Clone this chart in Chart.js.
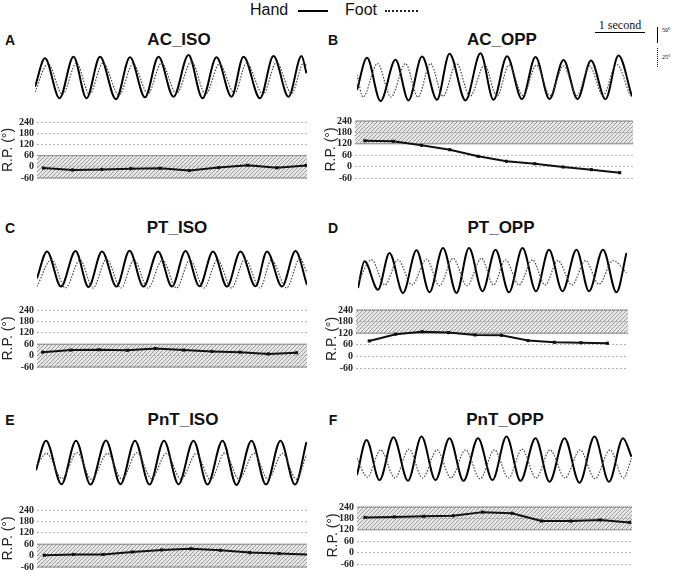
<!DOCTYPE html>
<html>
<head>
<meta charset="utf-8">
<script src="https://cdn.jsdelivr.net/npm/chart.js@4.4.1/dist/chart.umd.min.js"></script>
<style>
body { margin: 0; background: #fff; }
#fig { position: relative; width: 676px; height: 579px; overflow: hidden; font-family: 'Liberation Sans', Arial, sans-serif; }
#fig canvas { position: absolute; }
.lbl { position: absolute; transform: translate(-50%, -50%); white-space: nowrap; color: #111; }
.title { font-weight: bold; font-size: 17px; }
.letter { font-weight: bold; font-size: 14px; }
.abs { position: absolute; }
</style>
</head>
<body>
<div id="fig">
  <div class="abs" style="left:250px;top:1px;font-size:16px;color:#111;">Hand</div>
  <div class="abs" style="left:298px;top:10px;width:30px;border-top:2.5px solid #000;"></div>
  <div class="abs" style="left:345px;top:1px;font-size:16px;color:#111;">Foot</div>
  <div class="abs" style="left:385px;top:10px;width:33px;border-top:2px dotted #222;"></div>

  <div class="lbl" style="left:620px;top:25px;font-family:'Liberation Serif',serif;font-size:12px;">1 second</div>
  <div class="abs" style="left:595px;top:32px;width:50px;border-top:1.5px solid #000;"></div>
  <div class="abs" style="left:657px;top:27px;height:16px;border-left:1.5px solid #000;"></div>
  <div class="abs" style="left:662px;top:27px;font-family:'Liberation Serif',serif;font-size:6px;">50°</div>
  <div class="abs" style="left:657px;top:48px;height:19px;border-left:1.5px dotted #222;"></div>
  <div class="abs" style="left:662px;top:54px;font-family:'Liberation Serif',serif;font-size:6px;">25°</div>

  <div class="lbl letter" style="left:10px;top:40px;">A</div>
  <div class="lbl title" style="left:179px;top:40px;">AC_ISO</div>
  <div class="lbl letter" style="left:333px;top:40px;">B</div>
  <div class="lbl title" style="left:502px;top:40px;">AC_OPP</div>
  <div class="lbl letter" style="left:10px;top:228px;">C</div>
  <div class="lbl title" style="left:177px;top:228px;">PT_ISO</div>
  <div class="lbl letter" style="left:333px;top:228px;">D</div>
  <div class="lbl title" style="left:501px;top:228px;">PT_OPP</div>
  <div class="lbl letter" style="left:10px;top:420px;">E</div>
  <div class="lbl title" style="left:183px;top:420px;">PnT_ISO</div>
  <div class="lbl letter" style="left:333px;top:420px;">F</div>
  <div class="lbl title" style="left:505px;top:420px;">PnT_OPP</div>
</div>
<script>
// relative phase: one value per cycle
const cycles = [1, 2, 3, 4, 5, 6, 7, 8, 9, 10];
const rpTicks = [-60, 0, 60, 120, 180, 240];
const isoBand = [-60, 60];
const oppBand = [120, 240];

const acIsoRP = [-7, -17, -14, -10, -8, -20, -4, 8, -5, 7];
const acOppRP = [136, 133, 112, 89, 54, 28, 15, -2, -16, -32];
const ptIsoRP = [18, 29, 31, 28, 37, 29, 22, 18, 9, 15];
const ptOppRP = [80, 115, 128, 123, 111, 109, 82, 73, 71, 68];
const pntIsoRP = [2, 6, 6, 19, 30, 36, 28, 16, 11, 6];
const pntOppRP = [185, 188, 191, 194, 213, 207, 166, 166, 172, 159];

// angle traces: turning points (time in s, angle in deg)
const acIsoHandT = [0, 0.20, 0.49, 0.77, 1.03, 1.30, 1.62, 1.90, 2.20, 2.47, 2.77, 3.07, 3.35, 3.63, 3.93, 4.17, 4.50, 4.77, 5.07, 5.33, 5.43];
const acIsoHandV = [-29, 60, -65, 65, -65, 65, -68, 63, -62, 65, -60, 70, -65, 63, -60, 65, -65, 67, -60, 67, 13];
const acIsoFootT = [0, 0.26, 0.55, 0.83, 1.09, 1.36, 1.68, 1.96, 2.26, 2.53, 2.83, 3.13, 3.41, 3.69, 3.99, 4.23, 4.56, 4.83, 5.13, 5.38, 5.43];
const acIsoFootV = [-19, 18, -22, 19, -22, 19, -23, 18, -21, 19, -21, 21, -22, 18, -21, 19, -22, 20, -21, 20, 15];

const acOppHandT = [0, 0.20, 0.47, 0.77, 1.03, 1.30, 1.60, 1.85, 2.17, 2.47, 2.73, 3.00, 3.30, 3.57, 3.85, 4.13, 4.41, 4.68, 4.97, 5.23, 5.50];
const acOppHandV = [-37, 63, -72, 57, -70, 67, -68, 76, -70, 77, -68, 68, -66, 66, -66, 56, -66, 55, -66, 70, -58];
const acOppFootT = [0, 0.12, 0.41, 0.68, 0.97, 1.22, 1.47, 1.72, 1.99, 2.26, 2.55, 2.80, 3.04, 3.32, 3.59, 3.86, 4.13, 4.40, 4.65, 4.92, 5.19, 5.46];
const acOppFootV = [4, -25, 19, -25, 19, -25, 19, -24, 19, -24, 17, -24, 17, -23, 17, -23, 16, -23, 16, -23, 18, -23];

const ptIsoHandT = [0, 0.20, 0.48, 0.77, 1.03, 1.30, 1.59, 1.85, 2.13, 2.42, 2.70, 2.97, 3.25, 3.52, 3.80, 4.07, 4.37, 4.60, 4.90, 5.17, 5.40];
const ptIsoHandV = [-29, 55, -55, 56, -56, 55, -55, 57, -55, 55, -55, 56, -54, 55, -55, 55, -54, 55, -55, 56, -50];
const ptIsoFootT = [0, 0.29, 0.57, 0.86, 1.12, 1.39, 1.68, 1.94, 2.22, 2.51, 2.79, 3.06, 3.34, 3.61, 3.89, 4.16, 4.46, 4.69, 4.99, 5.26, 5.40];
const ptIsoFootV = [-23, 12, -25, 12, -25, 13, -25, 12, -25, 12, -25, 12, -25, 12, -25, 13, -25, 12, -25, 14, -5];

const ptOppHandT = [0, 0.13, 0.40, 0.63, 0.90, 1.17, 1.43, 1.70, 1.97, 2.22, 2.49, 2.75, 3.02, 3.29, 3.56, 3.82, 4.09, 4.37, 4.62, 4.90, 5.17, 5.37];
const ptOppHandV = [-55, 29, -60, 55, -70, 63, -68, 70, -70, 70, -65, 65, -68, 70, -65, 65, -65, 65, -65, 65, -68, 55];
const ptOppFootT = [0, 0.27, 0.54, 0.80, 1.08, 1.37, 1.63, 1.90, 2.18, 2.47, 2.71, 2.95, 3.22, 3.49, 3.74, 4.00, 4.28, 4.55, 4.82, 5.10, 5.37];
const ptOppFootV = [-16, 14, -19, 14, -19, 15, -20, 16, -20, 16, -19, 14, -19, 14, -19, 13, -19, 13, -18, 13, -3];

const pntIsoHandT = [0, 0.20, 0.51, 0.80, 1.09, 1.40, 1.69, 1.98, 2.27, 2.56, 2.85, 3.15, 3.43, 3.73, 4.01, 4.31, 4.60, 4.89, 5.18, 5.41];
const pntIsoHandV = [-24, 68, -68, 68, -69, 69, -68, 68, -69, 68, -68, 68, -69, 68, -70, 68, -69, 68, -69, 64];
const pntIsoFootT = [0, 0.21, 0.52, 0.82, 1.11, 1.43, 1.72, 2.02, 2.31, 2.61, 2.90, 3.21, 3.49, 3.78, 4.06, 4.36, 4.64, 4.93, 5.21, 5.41];
const pntIsoFootV = [-6, 12, -21, 13, -22, 12, -22, 13, -21, 12, -22, 12, -23, 13, -22, 12, -22, 12, -22, 10];

const pntOppHandT = [0, 0.19, 0.45, 0.73, 1.02, 1.29, 1.57, 1.85, 2.13, 2.42, 2.71, 2.99, 3.27, 3.57, 3.85, 4.15, 4.45, 4.75, 5.04, 5.32, 5.49];
const pntOppHandV = [-50, 59, -66, 68, -68, 70, -66, 65, -68, 65, -66, 70, -68, 65, -71, 65, -74, 70, -71, 65, 7];
const pntOppFootT = [0, 0.21, 0.47, 0.76, 1.04, 1.31, 1.60, 1.88, 2.17, 2.46, 2.75, 3.03, 3.30, 3.58, 3.86, 4.16, 4.46, 4.76, 5.06, 5.33, 5.49];
const pntOppFootV = [1, -24, 12, -25, 13, -25, 12, -25, 12, -26, 12, -25, 13, -25, 12, -25, 12, -26, 12, -25, 1];

// scale bars in the figure: 1 s = 50 px, 50 deg hand = 16 px, 25 deg foot = 19 px
const PX_PER_SEC = 50;
const HAND_DEG_PER_PX = 50 / 16;
const FOOT_DEG_PER_PX = 25 / 19;

const fig = document.getElementById('fig');

function addCanvas(left, top, w, h) {
    let c = document.createElement('canvas');
    c.width = w;
    c.height = h;
    c.style.left = left + 'px';
    c.style.top = top + 'px';
    c.style.width = w + 'px';
    c.style.height = h + 'px';
    fig.appendChild(c);
    return c.getContext('2d');
}

function pts(xs, ys) {
    return xs.map((x, i) => ({ x: x, y: ys[i] }));
}

function drawWave(handT, handV, footT, footV, box) {
    let ctx = addCanvas(box.left, box.top, box.w, box.h);
    let half = box.h / 2;
    new Chart(ctx, {
        type: 'line',
        data: {
            datasets: [
                {
                    data: pts(footT, footV), yAxisID: 'yF',
                    borderColor: '#444', borderWidth: 1.2, borderDash: [1.5, 1.5],
                    pointRadius: 0, cubicInterpolationMode: 'monotone', clip: false
                },
                {
                    data: pts(handT, handV), yAxisID: 'yH',
                    borderColor: '#000', borderWidth: 2,
                    pointRadius: 0, cubicInterpolationMode: 'monotone', clip: false
                }
            ]
        },
        options: {
            responsive: false, animation: false, events: [],
            plugins: { legend: { display: false }, tooltip: { enabled: false } },
            layout: { padding: 0 },
            scales: {
                x: { type: 'linear', display: false, min: 0, max: box.w / PX_PER_SEC },
                yH: { display: false, min: -half * HAND_DEG_PER_PX, max: half * HAND_DEG_PER_PX },
                yF: { display: false, min: -half * FOOT_DEG_PER_PX, max: half * FOOT_DEG_PER_PX }
            }
        }
    });
}

function hatch(ctx) {
    let c = document.createElement('canvas');
    c.width = 4;
    c.height = 4;
    let g = c.getContext('2d');
    g.fillStyle = '#e6e6e6';
    g.fillRect(0, 0, 4, 4);
    g.strokeStyle = '#8a8a8a';
    g.lineWidth = 0.8;
    g.beginPath();
    g.moveTo(0, 4); g.lineTo(4, 0);
    g.moveTo(-1, 1); g.lineTo(1, -1);
    g.moveTo(3, 5); g.lineTo(5, 3);
    g.stroke();
    return ctx.createPattern(c, 'repeat');
}

const bandPlugin = {
    id: 'band',
    beforeDraw(chart, args, opts) {
        let y = chart.scales.y, a = chart.chartArea, ctx = chart.ctx;
        let top = y.getPixelForValue(opts.range[1]);
        let bot = y.getPixelForValue(opts.range[0]);
        ctx.save();
        ctx.fillStyle = hatch(ctx);
        ctx.fillRect(a.left, top, a.right - a.left, bot - top);
        ctx.strokeStyle = '#808080';
        ctx.lineWidth = 1;
        ctx.beginPath();
        ctx.moveTo(a.left, top); ctx.lineTo(a.right, top);
        ctx.moveTo(a.left, bot); ctx.lineTo(a.right, bot);
        ctx.stroke();
        ctx.restore();
    }
};

function drawRP(values, band, box) {
    let padT = 8, padB = 4, padR = 4;
    let ctx = addCanvas(box.left - box.axisW, box.top - padT,
        box.right - box.left + box.axisW + padR, box.bottom - box.top + padT + padB);
    new Chart(ctx, {
        type: 'line',
        data: {
            datasets: [{
                data: pts(cycles, values),
                borderColor: '#111', borderWidth: 2, tension: 0,
                pointRadius: 2.2, pointStyle: 'rect',
                pointBackgroundColor: '#111', pointBorderWidth: 0
            }]
        },
        options: {
            responsive: false, animation: false, events: [],
            plugins: { legend: { display: false }, tooltip: { enabled: false }, band: { range: band } },
            layout: { padding: { top: padT, bottom: padB, right: padR, left: 0 } },
            scales: {
                x: { type: 'linear', display: false, min: box.xMin, max: box.xMax },
                y: {
                    min: -60, max: 240,
                    afterFit: s => { s.width = box.axisW; },
                    afterBuildTicks: s => { s.ticks = rpTicks.map(v => ({ value: v })); },
                    ticks: { autoSkip: false, font: { family: 'Liberation Serif', weight: 'bold', size: 10 }, color: '#222', padding: 3 },
                    grid: { color: '#a0a0a0', lineWidth: 0.8, drawTicks: false },
                    border: { display: false, dash: [2, 2] },
                    title: { display: true, text: 'R.P. (°)', font: { family: 'Liberation Sans', size: 14 }, color: '#222', padding: 0 }
                }
            }
        },
        plugins: [bandPlugin]
    });
}

drawWave(acIsoHandT, acIsoHandV, acIsoFootT, acIsoFootV, { left: 35, top: 50, w: 272, h: 55 });
drawWave(acOppHandT, acOppHandV, acOppFootT, acOppFootV, { left: 357, top: 50, w: 275, h: 56 });
drawWave(ptIsoHandT, ptIsoHandV, ptIsoFootT, ptIsoFootV, { left: 37, top: 241, w: 270, h: 56 });
drawWave(ptOppHandT, ptOppHandV, ptOppFootT, ptOppFootV, { left: 358, top: 243, w: 269, h: 55 });
drawWave(pntIsoHandT, pntIsoHandV, pntIsoFootT, pntIsoFootV, { left: 36, top: 435, w: 271, h: 55 });
drawWave(pntOppHandT, pntOppHandV, pntOppFootT, pntOppFootV, { left: 357, top: 431, w: 275, h: 56 });

drawRP(acIsoRP, isoBand, { left: 37, right: 307, top: 121, bottom: 183, axisW: 37, xMin: 0.78, xMax: 10.03 });
drawRP(acOppRP, oppBand, { left: 355, right: 633, top: 120, bottom: 183, axisW: 32, xMin: 0.65, xMax: 10.47 });
drawRP(ptIsoRP, isoBand, { left: 37, right: 307, top: 309, bottom: 372, axisW: 37, xMin: 0.8, xMax: 10.37 });
drawRP(ptOppRP, oppBand, { left: 356, right: 628, top: 309, bottom: 373, axisW: 32, xMin: 0.5, xMax: 10.78 });
drawRP(pntIsoRP, isoBand, { left: 37, right: 307, top: 509, bottom: 572, axisW: 37, xMin: 0.75, xMax: 9.95 });
drawRP(pntOppRP, oppBand, { left: 357, right: 632, top: 506, bottom: 569, axisW: 32, xMin: 0.73, xMax: 10.08 });
</script>
</body>
</html>
